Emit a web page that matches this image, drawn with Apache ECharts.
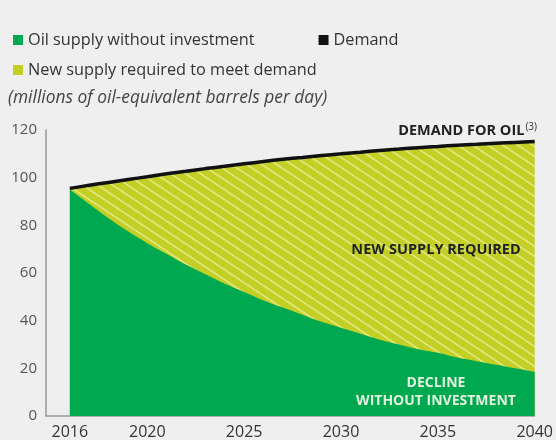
<!DOCTYPE html>
<html><head><meta charset="utf-8">
<script src="https://cdn.jsdelivr.net/npm/echarts@6/dist/echarts.min.js"></script>
<style>html,body{margin:0;padding:0;background:#efefef}#c{width:556px;height:440px}</style>
</head><body><div id="c"></div>
<script>
const years = [2016,2017,2018,2019,2020,2021,2022,2023,2024,2025,2026,2027,2028,2029,2030,2031,2032,2033,2034,2035,2036,2037,2038,2039,2040];
const demand = [95.5,96.8,98,99.2,100.4,101.6,102.7,103.8,104.8,105.8,106.8,107.7,108.5,109.3,110,110.7,111.4,112,112.6,113.1,113.6,114,114.4,114.8,115.2];
const supplyWithoutInvestment = [95,89,83,77.5,72.5,68,63.5,59.5,55.5,52,48.5,45.5,42.5,39.5,37,34.5,32,30,28,26.5,24.5,23,21.5,20,18.5];
const xTickLabels = [2016,2020,2025,2030,2035,2040];
// new supply required = gap between demand and supply without investment
const newSupplyRequired = demand.map((d,i)=>+(d - supplyWithoutInvestment[i]).toFixed(2));

// stripe pattern for the "new supply" area
function stripePattern(){
  const w=15,h=10, c=document.createElement('canvas'); c.width=w; c.height=h;
  const g=c.getContext('2d');
  g.fillStyle='#c3cf25'; g.fillRect(0,0,w,h);
  g.strokeStyle='rgba(255,255,225,0.5)'; g.lineWidth=1.6;
  for(const dy of [-h,0,h]){ g.beginPath(); g.moveTo(0,dy); g.lineTo(w,dy+h); g.stroke(); }
  return c;
}

const FONT = 'Open Sans';
const chart = echarts.init(document.getElementById('c'));
chart.setOption({
  backgroundColor:'#efefef',
  animation:false,
  textStyle:{fontFamily:FONT},
  title:{text:'(millions of oil-equivalent barrels per day)', left:3, top:85,
    textStyle:{fontStyle:'italic', fontWeight:'normal', fontSize:17.4, color:'#444', fontFamily:FONT}},
  legend:[
    {data:['Oil supply without investment','Demand'], left:8, top:27, itemWidth:10, itemHeight:10, itemGap:64,
     icon:'rect', textStyle:{fontSize:16.3, color:'#333', fontFamily:FONT}},
    {data:['New supply required to meet demand'], left:8, top:57, itemWidth:10, itemHeight:10,
     icon:'rect', textStyle:{fontSize:16.3, color:'#333', fontFamily:FONT}}
  ],
  grid:{left:46, right:17, top:130, bottom:21},
  xAxis:{type:'value', min:2014.77, max:2040,
    axisLine:{lineStyle:{color:'#999', width:1.5}}, axisTick:{show:false}, splitLine:{show:false},
    axisLabel:{customValues:xTickLabels, color:'#333', fontSize:16, margin:8, fontFamily:FONT, formatter:v=>String(v)}},
  yAxis:{type:'value', min:0, max:120, interval:20,
    axisLine:{show:true, lineStyle:{color:'#999', width:1.5}}, axisTick:{show:false}, splitLine:{show:false},
    axisLabel:{color:'#555', fontSize:15, margin:9, fontFamily:FONT}},
  series:[
    {name:'New supply required to meet demand', type:'line', symbol:'none', smooth:0.3,
     data:years.map((y,i)=>[y, supplyWithoutInvestment[i] + newSupplyRequired[i]]),
     lineStyle:{width:0}, itemStyle:{color:'#c3cf25'},
     areaStyle:{color:{image:stripePattern(), repeat:'repeat'}, opacity:1}, z:1},
    {name:'Oil supply without investment', type:'line', symbol:'none', smooth:0.3,
     data:years.map((y,i)=>[y,supplyWithoutInvestment[i]]),
     lineStyle:{width:0}, itemStyle:{color:'#00a94f'}, areaStyle:{color:'#00a94f', opacity:1}, z:2},
    {name:'Demand', type:'line', symbol:'none', smooth:0.3, data:years.map((y,i)=>[y,demand[i]]),
     itemStyle:{color:'#111'}, lineStyle:{color:'#111', width:3.5}, z:5}
  ],
  graphic:[
    {type:'text', z:100, x:537, y:131, style:{text:'{a|DEMAND FOR OIL}{b|(3)}', align:'right', verticalAlign:'middle', rich:{a:{fontSize:14.5, fontWeight:'bold', fill:'#222', fontFamily:FONT}, b:{fontSize:10, fill:'#333', verticalAlign:'top', fontFamily:FONT, padding:[0,0,8,1]}}}},
    {type:'text', z:100, x:436, y:250, style:{text:'NEW SUPPLY REQUIRED', align:'center', verticalAlign:'middle', fontSize:14.5, fontWeight:'bold', fill:'#222', fontFamily:FONT}},
    {type:'text', z:100, x:436, y:392, style:{text:'DECLINE\nWITHOUT INVESTMENT', align:'center', verticalAlign:'middle', fontSize:14, lineHeight:18, fontWeight:'bold', fill:'#e3f1df', fontFamily:FONT}}
  ]
});
</script></body></html>
